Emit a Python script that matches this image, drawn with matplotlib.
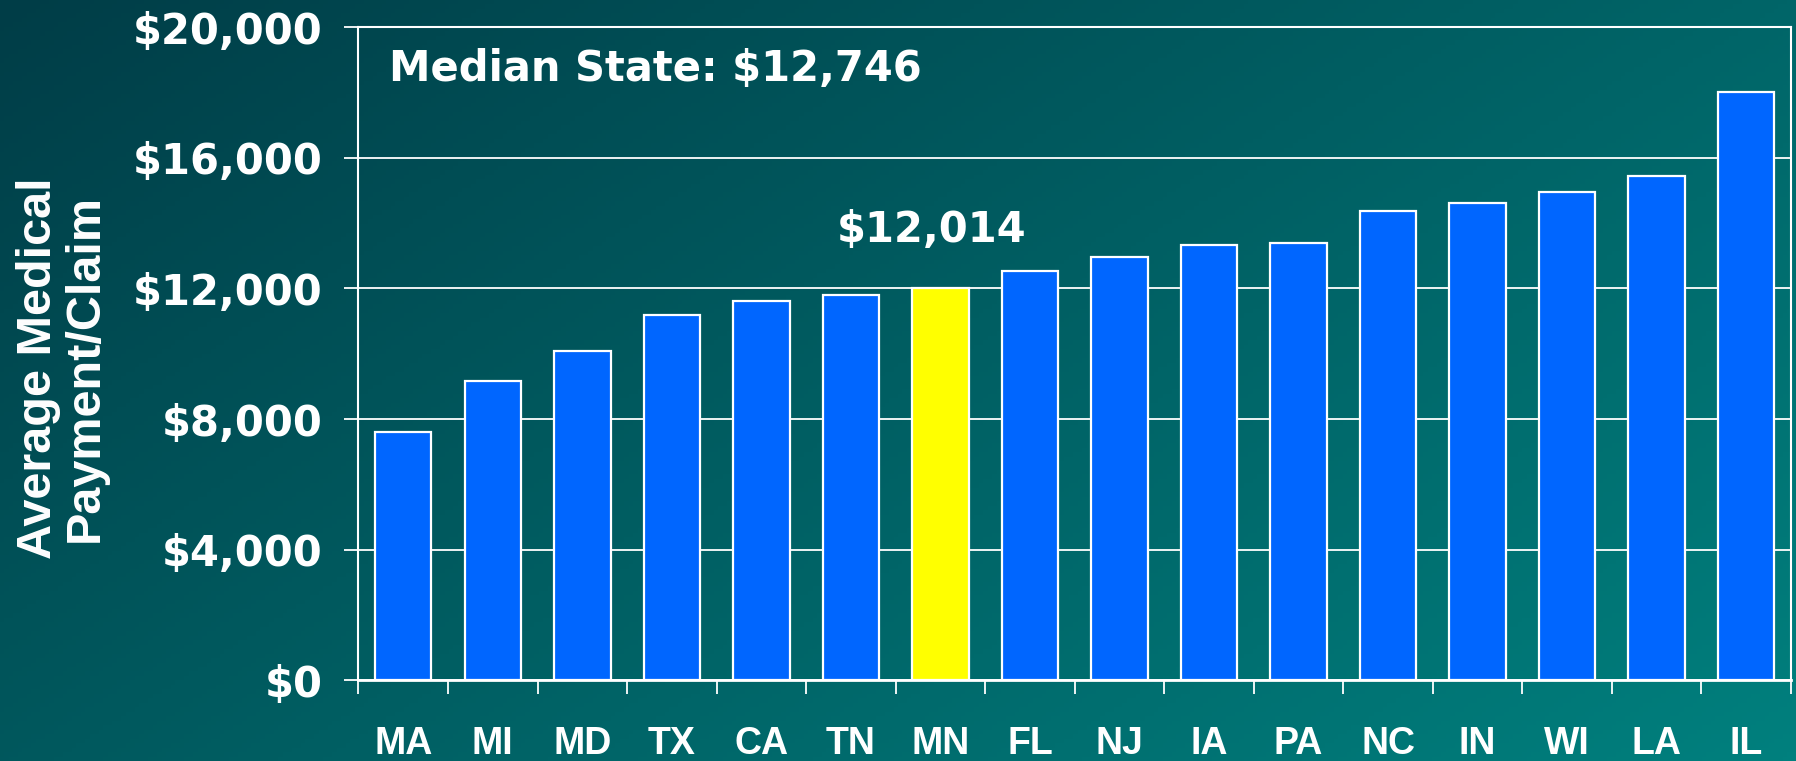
import numpy as np
import matplotlib.pyplot as plt
from matplotlib.colors import LinearSegmentedColormap

states = ["MA", "MI", "MD", "TX", "CA", "TN", "MN", "FL",
          "NJ", "IA", "PA", "NC", "IN", "WI", "LA", "IL"]
payments = [7600, 9150, 10070, 11190, 11620, 11790, 12014, 12530,
            12980, 13330, 13400, 14390, 14630, 14950, 15440, 18030]
highlight = "MN"
median_value = 12746
y_ticks = [0, 4000, 8000, 12000, 16000, 20000]

fig = plt.figure(figsize=(17.96, 7.61), dpi=100)

# background gradient (dark teal top-left -> lighter teal bottom-right)
bg = fig.add_axes([0, 0, 1, 1], zorder=-10)
gx, gy = np.meshgrid(np.linspace(0, 1, 400), np.linspace(0, 1, 170))
grad = 0.6 * gx + 0.4 * gy
cmap_bg = LinearSegmentedColormap.from_list("bg", ["#003d47", "#00807e"])
bg.imshow(grad, cmap=cmap_bg, aspect="auto", extent=[0, 1, 0, 1], origin="upper")
bg.axis("off")

ax = fig.add_axes([0.1996, 0.1064, 0.7976, 0.8575])
ax.patch.set_alpha(0)

x = np.arange(len(states))
colors = ["#ffff00" if s == highlight else "#0066ff" for s in states]
ax.bar(x, payments, width=0.63, color=colors, edgecolor="white",
       linewidth=1.6, zorder=3)

ax.set_xlim(-0.5, len(states) - 0.5)
ax.set_ylim(0, 20000)
ax.set_yticks(y_ticks)
ax.set_yticklabels([f"${v:,}" for v in y_ticks])
ax.yaxis.grid(True, color="white", linewidth=1.3, zorder=0)
ax.set_axisbelow(True)

for side in ["left", "right", "top", "bottom"]:
    ax.spines[side].set_color("white")
    ax.spines[side].set_linewidth(1.5)
ax.spines["bottom"].set_linewidth(2)

ax.tick_params(axis="y", colors="white", length=10, width=1.3, pad=16,
               labelsize=30)
for lbl in ax.get_yticklabels():
    lbl.set_fontfamily("DejaVu Sans")
    lbl.set_fontweight("bold")

# category labels at centres, ticks at boundaries
ax.set_xticks(x)
ax.set_xticklabels(states, fontsize=27, fontweight="bold",
                   fontfamily="Liberation Sans", color="white")
ax.tick_params(axis="x", which="major", length=0, pad=33)
ax.set_xticks(np.arange(len(states) + 1) - 0.5, minor=True)
ax.tick_params(axis="x", which="minor", length=10, width=1.3, color="white")

mn_idx = states.index(highlight)
ax.annotate(f"${payments[mn_idx]:,}", xy=(mn_idx, payments[mn_idx]),
            xytext=(-6.5, 33), textcoords="offset points", ha="center",
            va="baseline", fontsize=30, fontweight="bold",
            fontfamily="DejaVu Sans", color="white")

ax.text(0.0213, 0.918, f"Median State: ${median_value:,}", transform=ax.transAxes,
        ha="left", va="baseline", fontsize=30, fontweight="bold",
        fontfamily="DejaVu Sans", color="white")

fig.text(62 / 1796, 1 - 368 / 761, "Average Medical\nPayment/Claim",
         rotation=90, ha="center", va="center", multialignment="center",
         fontsize=35, fontweight="bold", fontfamily="Liberation Sans",
         color="white", linespacing=1.05)

plt.savefig("out.png", dpi=100)
plt.close()
